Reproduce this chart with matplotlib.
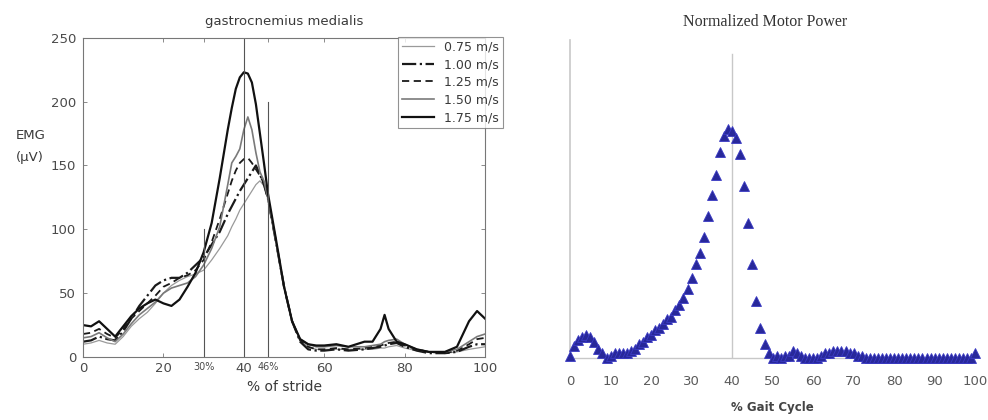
import numpy as np
import matplotlib
matplotlib.use('Agg')
import matplotlib.pyplot as plt

# ============================================================
# 1. DATA
# ============================================================
# left panel: EMG of gastrocnemius medialis vs % of stride
stride_pct = [0, 2, 4, 6, 8, 10, 12, 14, 16, 18, 20, 22, 24, 26, 28, 30, 32, 34, 36, 37,
              38, 39, 40, 41, 42, 43, 44, 45, 46, 48, 50, 52, 54, 56, 58, 60, 63, 66, 70, 72,
              74, 75, 76, 78, 80, 83, 86, 90, 93, 96, 98, 100]

emg_075 = [10, 11, 13, 11, 10, 16, 24, 30, 35, 42, 50, 56, 60, 63, 65, 68, 76, 85, 95, 102,
           108, 115, 120, 125, 130, 135, 138, 134, 124, 90, 55, 28, 13, 8, 6, 6, 6, 6, 6, 6,
           7, 7, 8, 9, 7, 5, 4, 3, 4, 6, 7, 8]
emg_100 = [12, 13, 16, 14, 13, 20, 30, 40, 48, 56, 60, 62, 62, 66, 72, 78, 88, 98, 112, 118,
           124, 130, 135, 140, 145, 150, 143, 135, 124, 90, 55, 28, 12, 6, 5, 5, 6, 5, 6, 7,
           8, 9, 10, 11, 8, 5, 3, 3, 4, 8, 10, 10]
emg_125 = [18, 19, 22, 18, 15, 22, 30, 36, 42, 48, 55, 58, 62, 64, 68, 76, 90, 108, 128, 138,
           146, 152, 155, 156, 152, 147, 142, 136, 124, 90, 55, 28, 13, 8, 6, 6, 7, 6, 7, 8,
           9, 10, 11, 12, 9, 6, 4, 3, 5, 10, 14, 15]
emg_150 = [15, 16, 19, 15, 12, 18, 26, 33, 38, 43, 50, 54, 56, 58, 63, 72, 85, 102, 135, 152,
           157, 163, 178, 188, 178, 160, 145, 138, 124, 90, 55, 28, 14, 10, 8, 8, 9, 8, 8, 9,
           10, 12, 13, 14, 10, 6, 4, 4, 6, 12, 16, 18]
emg_175 = [25, 24, 28, 22, 16, 24, 32, 38, 42, 45, 42, 40, 45, 55, 66, 82, 105, 140, 178, 195,
           210, 219, 223, 222, 215, 198, 175, 152, 128, 92, 55, 28, 14, 10, 9, 9, 10, 8, 12, 12,
           22, 33, 22, 12, 10, 6, 4, 4, 8, 28, 36, 30]

speed_labels = ['0.75 m/s', '1.00 m/s', '1.25 m/s', '1.50 m/s', '1.75 m/s']
left_xticks = [0, 20, 30, 40, 46, 60, 80, 100]
left_xticklabels = ['0', '20', '30%', '40', '46%', '60', '80', '100']

# right panel: normalized motor power vs % gait cycle
gait_pct = list(range(0, 101))
motor_power = [0.01, 0.05, 0.08, 0.09, 0.10, 0.09, 0.07, 0.04, 0.02, 0.00,
               0.01, 0.02, 0.02, 0.02, 0.02, 0.03, 0.04, 0.06, 0.07, 0.09,
               0.10, 0.12, 0.13, 0.15, 0.17, 0.18, 0.21, 0.23, 0.26, 0.30,
               0.35, 0.41, 0.46, 0.53, 0.62, 0.71, 0.80, 0.90, 0.97, 1.00,
               0.99, 0.96, 0.89, 0.75, 0.59, 0.41, 0.25, 0.13, 0.06, 0.02,
               0.00, 0.01, 0.00, 0.01, 0.01, 0.03, 0.02, 0.01, 0.00, 0.00,
               0.00, 0.00, 0.01, 0.02, 0.02, 0.03, 0.03, 0.03, 0.03, 0.02,
               0.02, 0.01, 0.01, 0.00, 0.00, 0.00, 0.00, 0.00, 0.00, 0.00,
               0.00, 0.00, 0.00, 0.00, 0.00, 0.00, 0.00, 0.00, 0.00, 0.00,
               0.00, 0.00, 0.00, 0.00, 0.00, 0.00, 0.00, 0.00, 0.00, 0.00,
               0.02]
right_xticks = [0, 10, 20, 30, 40, 50, 60, 70, 80, 90, 100]

# ============================================================
# 2. FIGURE
# ============================================================
TXT = '#3a3a3a'
plt.rcParams.update({'font.family': 'DejaVu Sans', 'font.size': 9})

fig = plt.figure(figsize=(9.88, 4.2), dpi=100)

# --- left: EMG ---
ax = fig.add_axes([0.084, 0.150, 0.407, 0.760])
styles = [
    dict(color='#9a9a9a', lw=0.9, ls='-'),
    dict(color='#1a1a1a', lw=1.6, ls='-.'),
    dict(color='#1a1a1a', lw=1.3, ls=(0, (4, 2.5))),
    dict(color='#7a7a7a', lw=1.2, ls='-'),
    dict(color='#111111', lw=1.6, ls='-'),
]
for vals, lab, st in zip([emg_075, emg_100, emg_125, emg_150, emg_175], speed_labels, styles):
    ax.plot(stride_pct, vals, label=lab, **st)

ax.plot([30, 30], [0, 100], color='#555555', lw=0.8)
ax.plot([40, 40], [0, 250], color='#555555', lw=0.8)
ax.plot([46, 46], [0, 200], color='#555555', lw=0.8)

ax.set_xlim(0, 100)
ax.set_ylim(0, 250)
ax.set_xticks(left_xticks)
ax.set_xticklabels(left_xticklabels)
ax.set_yticks([0, 50, 100, 150, 200, 250])
ax.tick_params(direction='in', length=3, width=0.6, colors='#777777',
               labelcolor='#4a4a4a', top=True, right=True, labelsize=9.5)
ax.tick_params(axis='y', pad=5)
for t in ax.get_xticklabels():
    if '%' in t.get_text():
        t.set_fontsize(7)
for s in ax.spines.values():
    s.set_color('#777777')
    s.set_linewidth(0.8)
ax.set_title('gastrocnemius medialis', fontsize=9.5, color=TXT, pad=9)
ax.set_xlabel('% of stride', fontsize=10, color=TXT, labelpad=4)
fig.text(0.016, 0.678, 'EMG', fontsize=9.5, color=TXT, ha='left', va='center')
fig.text(0.016, 0.624, '(µV)', fontsize=9.5, color=TXT, ha='left', va='center')

leg = ax.legend(loc='upper right', bbox_to_anchor=(0.509, 0.913),
                bbox_transform=fig.transFigure, fontsize=9, handlelength=2.6,
                frameon=True, fancybox=False, borderpad=0.3, labelspacing=0.38,
                handletextpad=0.8, borderaxespad=0)
leg.get_frame().set_edgecolor('#777777')
leg.get_frame().set_linewidth(0.8)
for t in leg.get_texts():
    t.set_color(TXT)

# --- right: motor power ---
ax2 = fig.add_axes([0.577, 0.148, 0.410, 0.757])
ax2.plot(gait_pct, motor_power, ls='none', marker='^', ms=6.8,
         color='#28289a', mec='#3a3ac4', mew=0.6, clip_on=False, zorder=3)
ax2.plot([40, 40], [0, 1.33], color='#c8c8c8', lw=1.0, zorder=1)
ax2.set_xlim(0, 100)
ax2.set_ylim(0, 1.39)
ax2.set_xticks(right_xticks)
ax2.set_yticks([])
ax2.tick_params(axis='x', length=0, labelsize=9.5, labelcolor='#5a5a5a', pad=12)
for side in ['top', 'right']:
    ax2.spines[side].set_visible(False)
ax2.spines['left'].set_color('#c8c8c8')
ax2.spines['left'].set_linewidth(1.2)
ax2.spines['bottom'].set_color('#c8c8c8')
ax2.spines['bottom'].set_linewidth(1.0)
fig.text(0.774, 0.948, 'Normalized Motor Power', family='Liberation Serif', fontsize=11.5,
         color='#333333', ha='center', va='center')
ax2.set_xlabel('% Gait Cycle', fontsize=8.5, fontweight='bold', color='#444444',
               labelpad=10)

fig.savefig('out.png', dpi=100)
